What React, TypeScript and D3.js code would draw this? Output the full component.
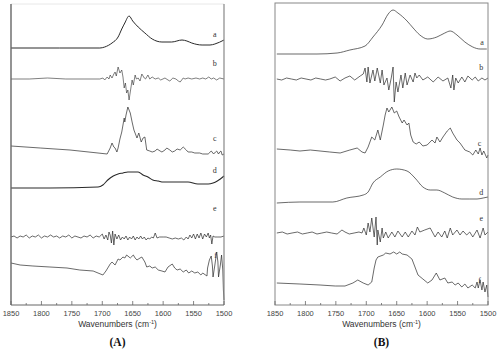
import React from "react";
import * as d3 from "d3";

type P = [number, number];

// ---------- Panel A spectra: [wavenumber, stacked intensity] ----------
const specA_a: P[] = [[1850,257],[1770,257],[1704,257],[1696,258],[1684,262],[1674,268],[1668,276],[1663,282],[1656,289],[1650,284],[1641,278],[1630,272],[1618,266],[1602,263],[1586,263],[1569,265],[1561,264],[1553,262],[1536,260],[1523,260],[1515,261],[1500,265]];

const specA_b: P[] = [[1850,226],[1820,226],[1790,227],[1760,226],[1730,226],[1704,226],[1699,227],[1696,225],[1692,228],[1689,226],[1687,230],[1684,227],[1681,231],[1679,233],[1677,229],[1674,238],[1671,232],[1668,235],[1666,228],[1664,217],[1662,222],[1660,212],[1658,215],[1656,205],[1653,217],[1651,225],[1649,220],[1646,230],[1644,226],[1641,227],[1638,224],[1635,231],[1631,227],[1629,226],[1627,228],[1625,230],[1622,226],[1618,228],[1613,226],[1608,227],[1604,225],[1597,227],[1592,225],[1589,224],[1584,227],[1579,226],[1575,224],[1572,223],[1567,227],[1564,226],[1559,227],[1553,226],[1546,227],[1540,226],[1535,227],[1530,226],[1525,228],[1521,226],[1517,227],[1512,225],[1507,227],[1500,226]];

const specA_c: P[] = [[1850,159],[1802,157],[1753,155],[1707,152],[1692,151],[1687,157],[1684,162],[1681,158],[1679,157],[1676,153],[1674,157],[1671,166],[1668,173],[1664,187],[1663,183],[1661,190],[1658,198],[1654,192],[1651,183],[1648,175],[1643,167],[1640,172],[1636,163],[1633,167],[1630,168],[1627,155],[1622,154],[1618,153],[1613,154],[1610,156],[1605,154],[1602,153],[1597,155],[1594,157],[1589,155],[1585,153],[1581,154],[1577,156],[1572,155],[1567,158],[1562,155],[1559,153],[1553,153],[1548,152],[1540,152],[1535,151],[1526,151],[1521,154],[1517,151],[1514,153],[1512,154],[1509,151],[1507,153],[1505,154],[1503,150],[1500,151]];

const specA_d: P[] = [[1850,117],[1786,117],[1707,118],[1699,120],[1691,125],[1682,129],[1674,131],[1666,132],[1658,133],[1650,133],[1641,133],[1633,130],[1625,128],[1617,125],[1608,124],[1600,123],[1592,123],[1576,123],[1559,123],[1543,121],[1526,121],[1518,122],[1511,124],[1506,126],[1500,129]];

const specA_e: P[] = [[1850,68],[1845,69],[1840,67],[1835,69],[1830,68],[1825,70],[1820,67],[1815,69],[1810,68],[1805,70],[1800,67],[1795,69],[1790,68],[1785,70],[1780,68],[1775,69],[1770,67],[1765,69],[1760,68],[1755,70],[1750,67],[1745,69],[1740,68],[1735,67],[1730,69],[1725,68],[1720,70],[1715,67],[1710,69],[1705,68],[1700,71],[1697,66],[1694,70],[1691,65],[1689,73],[1687,70],[1685,62],[1683,74],[1681,60],[1679,71],[1676,66],[1673,70],[1670,65],[1667,68],[1664,66],[1661,69],[1658,65],[1655,68],[1652,66],[1649,69],[1646,65],[1643,68],[1640,66],[1637,69],[1634,66],[1631,68],[1628,65],[1625,67],[1622,66],[1619,68],[1616,67],[1613,72],[1610,67],[1606,68],[1600,68],[1595,68],[1590,67],[1585,66],[1580,67],[1575,66],[1570,67],[1566,65],[1562,68],[1559,66],[1556,70],[1553,67],[1550,71],[1547,66],[1544,71],[1541,67],[1538,72],[1535,66],[1532,71],[1529,68],[1526,72],[1524,67],[1522,70],[1520,61],[1518,69],[1515,68],[1510,68],[1505,68],[1500,69]];

const specA_f: P[] = [[1850,42],[1835,40],[1814,39],[1786,38],[1758,37],[1737,35],[1715,34],[1707,32],[1699,30],[1694,34],[1691,37],[1687,41],[1684,43],[1679,40],[1674,46],[1671,45],[1666,48],[1663,47],[1660,50],[1654,47],[1649,50],[1646,47],[1643,45],[1638,47],[1635,48],[1630,43],[1627,38],[1622,39],[1618,37],[1613,38],[1608,35],[1602,34],[1597,33],[1592,38],[1585,41],[1581,37],[1577,35],[1572,36],[1567,33],[1562,35],[1558,32],[1553,34],[1548,32],[1543,33],[1538,30],[1535,32],[1528,29],[1527,37],[1524,45],[1521,49],[1519,39],[1518,28],[1515,40],[1512,53],[1510,43],[1509,28],[1506,40],[1504,50],[1502,35],[1501,15],[1500,5]];

// ---------- Panel B spectra ----------
const specB_a: P[] = [[1847,251],[1781,251],[1748,252],[1727,255],[1702,259],[1689,268],[1674,280],[1664,291],[1656,295],[1648,292],[1633,284],[1623,277],[1612,270],[1599,266],[1584,268],[1571,272],[1562,274],[1551,270],[1538,263],[1525,258],[1513,256],[1502,256]];

const specB_b: P[] = [[1847,226],[1839,225],[1831,227],[1823,226],[1815,225],[1807,227],[1799,226],[1791,225],[1783,227],[1775,226],[1767,225],[1760,226],[1751,228],[1743,224],[1735,227],[1727,229],[1719,225],[1710,229],[1705,231],[1702,237],[1699,223],[1697,238],[1694,222],[1689,235],[1686,224],[1682,237],[1677,222],[1674,235],[1671,220],[1666,227],[1663,215],[1659,227],[1656,238],[1654,203],[1651,223],[1648,213],[1643,230],[1640,217],[1636,232],[1633,220],[1628,230],[1623,223],[1620,232],[1617,227],[1613,230],[1607,225],[1599,228],[1590,223],[1582,228],[1574,224],[1566,227],[1561,217],[1558,230],[1556,215],[1553,227],[1549,222],[1543,228],[1538,223],[1533,229],[1526,225],[1521,228],[1516,224],[1510,227],[1505,225],[1500,227]];

const specB_c: P[] = [[1847,156],[1825,155],[1809,154],[1792,155],[1776,154],[1760,153],[1743,152],[1727,155],[1715,157],[1707,153],[1702,152],[1697,158],[1691,168],[1686,165],[1681,175],[1677,165],[1672,180],[1669,190],[1666,197],[1663,193],[1658,198],[1654,192],[1650,194],[1646,188],[1641,182],[1638,185],[1633,180],[1630,182],[1627,170],[1623,163],[1618,161],[1613,163],[1607,159],[1600,160],[1592,165],[1587,162],[1584,168],[1579,163],[1574,168],[1567,174],[1562,177],[1558,172],[1551,165],[1546,162],[1538,155],[1530,153],[1525,150],[1520,155],[1516,151],[1513,157],[1510,150],[1507,154],[1502,147],[1500,150]];

const specB_d: P[] = [[1847,102],[1809,103],[1755,103],[1732,107],[1705,110],[1697,113],[1689,122],[1677,128],[1664,134],[1650,136],[1633,134],[1620,127],[1607,118],[1595,115],[1584,115],[1571,112],[1558,108],[1543,106],[1530,106],[1518,106],[1508,107],[1500,108]];

const specB_e: P[] = [[1847,72],[1838,73],[1830,71],[1822,72],[1813,73],[1805,71],[1797,72],[1789,73],[1781,71],[1773,72],[1765,73],[1757,72],[1748,71],[1740,75],[1735,73],[1728,71],[1720,72],[1712,73],[1707,72],[1704,77],[1700,70],[1697,82],[1694,73],[1691,87],[1687,68],[1684,88],[1682,60],[1681,75],[1677,63],[1674,77],[1672,67],[1668,73],[1664,67],[1658,73],[1653,68],[1648,74],[1641,68],[1636,73],[1631,68],[1625,74],[1620,70],[1616,78],[1612,73],[1604,75],[1595,77],[1587,68],[1582,73],[1576,68],[1571,74],[1567,67],[1562,77],[1558,70],[1551,75],[1546,70],[1541,74],[1535,70],[1530,73],[1525,68],[1518,75],[1513,67],[1508,77],[1505,70],[1500,73]];

const specB_f: P[] = [[1847,22],[1809,21],[1776,20],[1751,19],[1735,19],[1722,22],[1714,25],[1705,22],[1697,20],[1691,23],[1687,37],[1684,45],[1681,48],[1672,50],[1668,52],[1661,51],[1655,53],[1650,51],[1645,53],[1641,51],[1633,50],[1625,46],[1620,38],[1615,30],[1607,26],[1599,22],[1592,25],[1585,32],[1579,25],[1571,27],[1566,22],[1559,23],[1554,20],[1549,22],[1543,18],[1538,21],[1533,17],[1526,20],[1521,17],[1518,23],[1516,17],[1513,25],[1510,15],[1508,23],[1505,13],[1502,20],[1500,8]];

// ---------- labels & ticks ----------
const curveNames = ["a", "b", "c", "d", "e", "f"];
const labelA: P[] = [[1515,271],[1515,242],[1515,167],[1515,135],[1515,97],[1514,50]];
const labelB: P[] = [[1510,263],[1511,238],[1514,162],[1511,113],[1511,87],[1514,25]];
const majorTicks = [1850, 1800, 1750, 1700, 1650, 1600, 1550, 1500];
const minorTicks = [1825, 1775, 1725, 1675, 1625, 1575, 1525];
const xTitle = "Wavenumbers (cm";
const panelTitles = ["(A)", "(B)"];

type Panel = {
  left: number;
  right: number;
  top: number;
  series: P[][];
  widths: number[];
  labels: P[];
  title: string;
  fullBox: boolean;
};

const panels: Panel[] = [
  {
    left: 11, right: 224, top: 4,
    series: [specA_a, specA_b, specA_c, specA_d, specA_e, specA_f],
    widths: [1.0, 0.6, 0.7, 1.1, 0.7, 0.7],
    labels: labelA, title: panelTitles[0], fullBox: false,
  },
  {
    left: 275, right: 488, top: 3,
    series: [specB_a, specB_b, specB_c, specB_d, specB_e, specB_f],
    widths: [0.7, 0.7, 0.7, 0.7, 0.7, 0.7],
    labels: labelB, title: panelTitles[1], fullBox: true,
  },
];

const BOTTOM = 305;

function PanelView({ p }: { p: Panel }) {
  const x = d3.scaleLinear().domain([1850, 1500]).range([p.left, p.right]);
  const y = d3.scaleLinear().domain([0, 301]).range([BOTTOM, 4]);
  const line = d3.line<P>().x((d) => x(d[0])).y((d) => y(d[1]));
  const smooth = d3.line<P>().x((d) => x(d[0])).y((d) => y(d[1])).curve(d3.curveMonotoneX);
  const cx = (p.left + p.right) / 2;
  return (
    <g>
      <defs>
        <clipPath id={"clip" + p.left}>
          <rect x={p.left} y={0} width={p.right - p.left + 1} height={BOTTOM + 1} />
        </clipPath>
      </defs>
      <g clipPath={`url(#clip${p.left})`}>
        {p.series.map((s, i) => (
          <path
            key={i}
            d={(i === 0 || i === 3 ? smooth(s) : line(s)) || ""}
            fill="none"
            stroke="#2a2a2a"
            strokeWidth={p.widths[i]}
            strokeLinejoin="round"
          />
        ))}
      </g>
      {p.fullBox ? (
        <rect x={p.left} y={p.top} width={p.right - p.left} height={BOTTOM - p.top} fill="none" stroke="#888" strokeWidth={1} />
      ) : (
        <g>
          <line x1={p.left} x2={p.right} y1={p.top} y2={p.top} stroke="#e2e2e2" strokeWidth={0.8} />
          <line x1={p.left} x2={p.left} y1={p.top} y2={BOTTOM} stroke="#666" strokeWidth={1.4} />
          <line x1={p.right} x2={p.right} y1={p.top} y2={BOTTOM} stroke="#888" strokeWidth={1.2} />
          <line x1={p.left} x2={p.right} y1={BOTTOM} y2={BOTTOM} stroke="#666" strokeWidth={1} />
        </g>
      )}
      {majorTicks.map((t) => (
        <line key={"M" + t} x1={x(t)} x2={x(t)} y1={BOTTOM} y2={BOTTOM - 4} stroke="#666" strokeWidth={0.8} />
      ))}
      {minorTicks.map((t) => (
        <line key={"m" + t} x1={x(t)} x2={x(t)} y1={BOTTOM} y2={BOTTOM - 2} stroke="#666" strokeWidth={0.8} />
      ))}
      {majorTicks.map((t) => (
        <text key={"t" + t} x={x(t)} y={316} textAnchor="middle" fontFamily="Liberation Sans, Arial, sans-serif" fontSize={7.5} fill="#444">
          {t}
        </text>
      ))}
      <text x={cx} y={327} textAnchor="middle" fontFamily="Liberation Sans, Arial, sans-serif" fontSize={8.5} fill="#333">
        {xTitle}
        <tspan dy={-3} fontSize={5.5}>-1</tspan>
        <tspan dy={3}>)</tspan>
      </text>
      <text x={cx} y={346} textAnchor="middle" fontFamily="Liberation Serif, Times New Roman, serif" fontWeight="bold" fontSize={11.5} fill="#111">
        {p.title}
      </text>
      {p.labels.map((l, i) => (
        <text key={"l" + i} x={x(l[0])} y={y(l[1])} dy="0.35em" textAnchor="middle" fontFamily="Liberation Serif, Times New Roman, serif" fontSize={8} fill="#333">
          {curveNames[i]}
        </text>
      ))}
    </g>
  );
}

export default function App() {
  return (
    <svg width={500} height={350} style={{ position: "absolute", left: 0, top: 0, background: "#fff" }}>
      <rect x={0} y={0} width={500} height={350} fill="#fff" />
      {panels.map((p, i) => (
        <PanelView key={i} p={p} />
      ))}
    </svg>
  );
}
